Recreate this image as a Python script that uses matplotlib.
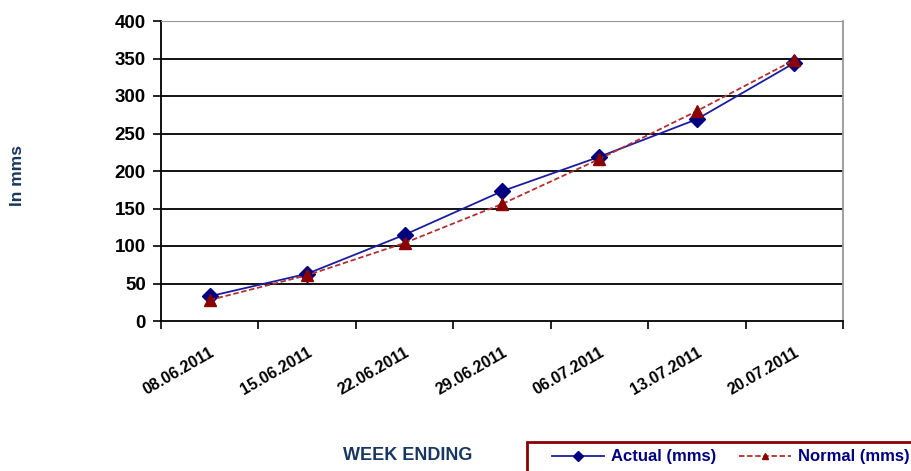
import numpy as np
import matplotlib.pyplot as plt
from matplotlib.patches import Rectangle

plt.rcParams['font.family'] = ['Liberation Sans', 'DejaVu Sans']

# data
weeks = ['08.06.2011', '15.06.2011', '22.06.2011', '29.06.2011',
         '06.07.2011', '13.07.2011', '20.07.2011']
actual = [33, 63, 115, 173, 219, 269, 344]
normal = [28, 61, 104, 156, 216, 280, 348]

fig = plt.figure(figsize=(9.11, 4.71), dpi=100)
ax = fig.add_axes([161/911, 150/471, 682/911, 300/471])

x = np.arange(len(weeks))
ax.plot(x, actual, color='#1c1ca0', lw=1.3, marker='D', ms=8,
        mfc='#000080', mec='#000080', label='Actual (mms)', zorder=4)
ax.plot(x, normal, color='#b03030', lw=1.3, ls=(0, (3, 1.5)), marker='^', ms=8,
        mfc='#8b0000', mec='#8b0000', label='Normal (mms)', zorder=5)

ax.set_xlim(-0.5, len(weeks) - 0.5)
ax.set_ylim(0, 400)
ax.set_yticks(range(0, 401, 50))
for yv in range(50, 401, 50):
    ax.axhline(yv, color='black', lw=1.3, zorder=1)

# tick marks sit on the category boundaries, labels under the categories
ax.set_xticks(np.arange(-0.5, len(weeks), 1.0))
ax.set_xticklabels([])
ax.set_xticks(x, minor=True)
ax.set_xticklabels(weeks, minor=True, rotation=30, ha='right',
                   rotation_mode='anchor', fontsize=11.5, fontweight='bold')
ax.tick_params(axis='x', which='minor', length=0, pad=17)
ax.tick_params(axis='x', which='major', length=6, width=1.2, direction='out')
ax.tick_params(axis='y', length=6, width=1.2, direction='out', labelsize=13.5, pad=5)
for lab in ax.get_yticklabels():
    lab.set_fontweight('bold')

ax.spines['left'].set_linewidth(1.3)
ax.spines['bottom'].set_linewidth(1.3)
ax.spines['right'].set_color('#999999')
ax.spines['top'].set_color('#999999')
ax.spines['right'].set_linewidth(1.3)

fig.text(18/911, 1 - 176/471, 'In mms', rotation=90, ha='center', va='center',
         fontsize=12.5, fontweight='bold', color='#17375e')
fig.text(408/911, 1 - 456/471, 'WEEK ENDING', ha='center', va='center',
         fontsize=13, fontweight='bold', color='#17375e')

# legend box runs past the right and bottom edges
fig.patches.append(Rectangle((527/911, -10/471), 400/911, 39/471,
                             transform=fig.transFigure, fill=False,
                             edgecolor='#8b0000', lw=2, figure=fig))
leg = fig.legend(loc='upper left', bbox_to_anchor=(544/911, 1 - 441/471),
                 ncol=2, frameon=False, markerscale=0.6,
                 fontsize=12, handlelength=3.1, columnspacing=1.4,
                 borderpad=0.5, handletextpad=0.4, borderaxespad=0)
for t in leg.get_texts():
    t.set_fontweight('bold')
    t.set_color('#000080')

plt.savefig('out.png', dpi=100)
